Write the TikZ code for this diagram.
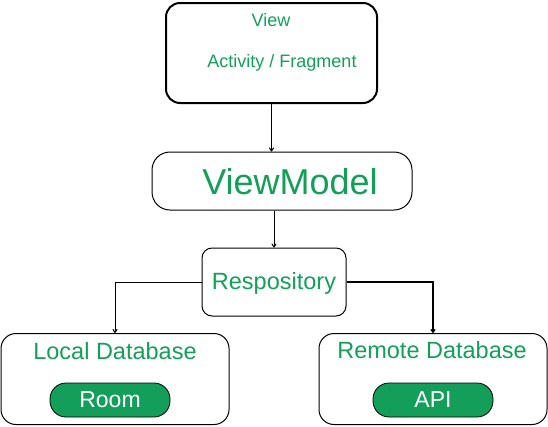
\documentclass[tikz,border=0pt]{standalone}
\usepackage{fontspec}
\setmainfont{Liberation Sans}
\usetikzlibrary{arrows.meta}
\definecolor{droidgreen}{HTML}{139F5A}
\tikzset{
  box/.style={draw, line width=1pt, rounded corners=#1, inner sep=0pt},
  box/.default=12pt,
  pill/.style={draw, line width=0.8pt, fill=droidgreen, rounded corners=16pt, minimum width=120pt, minimum height=34pt, inner sep=0pt, text=white, font=\fontsize{23}{26}\selectfont},
  lbl/.style={text=droidgreen, inner sep=0pt},
}
\begin{document}
\begin{tikzpicture}[x=1pt, y=-1pt, >={To[length=4pt,width=5pt]}]
    \useasboundingbox (0,0) rectangle (548,426);
    % boxes
    \node[box=14pt, line width=2pt, minimum width=211pt, minimum height=100pt] (view) at (271.5,53) {};
    \node[box=18pt, minimum width=260pt, minimum height=58pt] (vm) at (282,181) {};
    \node[box=10pt, minimum width=144pt, minimum height=68pt] (repo) at (274,282) {};
    \node[box=15pt, minimum width=228pt, minimum height=91pt] (local) at (115,379) {};
    \node[box=15pt, minimum width=228pt, minimum height=91pt] (remote) at (433,379) {};
    \node[pill] (room) at (110,400) {Room};
    \node[pill] (api) at (433,400) {API};
    % labels
    \node[lbl, font=\fontsize{18}{21}\selectfont] (viewtxt) at (271,20) {View};
    \node[lbl, font=\fontsize{18}{21}\selectfont] (actfrag) at (282,63) {Activity / Fragment};
    \node[lbl, font=\fontsize{36}{40}\selectfont] (vmtxt) at (290,182) {ViewModel};
    \node[lbl, font=\fontsize{23.5}{27}\selectfont] (repotxt) at (274,283) {Respository};
    \node[lbl, font=\fontsize{23.5}{27}\selectfont] (localtxt) at (115,351) {Local Database};
    \node[lbl, font=\fontsize{23.5}{27}\selectfont] (remotetxt) at (432,350) {Remote Database};
    % arrows
    \draw[->, line width=1pt] (view.south) -- (vm.north -| view.south);
    \draw[->, line width=1pt] (vm.south -| repo.north) -- (repo.north);
    \draw[->, line width=1pt] (repo.west) -| (local.north);
    \draw[->, line width=1.4pt] (repo.east) -| (remote.north);
\end{tikzpicture}
\end{document}
